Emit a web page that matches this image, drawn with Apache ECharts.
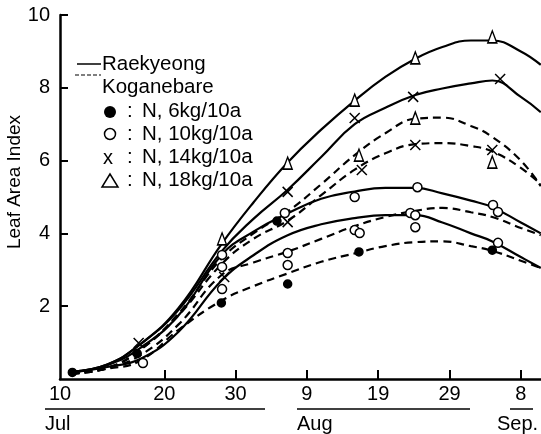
<!DOCTYPE html>
<html>
<head>
<meta charset="utf-8">
<script src="https://cdn.jsdelivr.net/npm/echarts@6/dist/echarts.min.js"></script>
<style>
html,body{margin:0;padding:0;background:#fff;}
#chart{width:541px;height:434px;}
</style>
</head>
<body>
<div id="chart"></div>
<script>
// x = days after 10 July
const curveDays = [-3, 2, 6.6, 12, 18, 22.5, 27.3, 32, 36.7, 41, 45.2, 49, 53, 56, 60, 62.8];
// Raekyeong (solid)
const rae18 = [0.2, 0.4, 0.95, 1.95, 3.7, 4.85, 5.95, 6.85, 7.65, 8.3, 8.8, 9.12, 9.3, 9.3, 9.0, 8.63];
const rae14 = [0.2, 0.4, 0.95, 1.9, 3.5, 4.4, 5.2, 6.1, 7.0, 7.45, 7.8, 7.98, 8.12, 8.2, 7.75, 7.33];
const rae10 = [0.2, 0.38, 0.85, 1.75, 3.4, 4.05, 4.55, 4.95, 5.15, 5.25, 5.25, 5.1, 4.9, 4.72, 4.3, 4.0];
const rae6  = [0.18, 0.33, 0.55, 1.3, 2.7, 3.4, 3.95, 4.25, 4.42, 4.5, 4.5, 4.3, 4.0, 3.78, 3.35, 3.05];
// Koganebare (dashed)
const kog18 = [0.15, 0.3, 0.8, 1.8, 3.3, 4.0, 4.6, 5.35, 6.15, 6.75, 7.15, 7.18, 6.95, 6.65, 6.0, 5.3];
const kog14 = [0.15, 0.3, 0.8, 1.75, 3.15, 3.85, 4.35, 5.05, 5.75, 6.2, 6.45, 6.48, 6.4, 6.25, 5.8, 5.35];
const kog10 = [0.15, 0.3, 0.65, 1.5, 2.85, 3.2, 3.5, 3.85, 4.2, 4.45, 4.62, 4.7, 4.58, 4.45, 4.15, 3.95];
const kog6  = [0.15, 0.28, 0.5, 1.35, 2.15, 2.55, 2.9, 3.22, 3.45, 3.65, 3.76, 3.78, 3.65, 3.52, 3.25, 3.05];

// observed points [day, LAI]
const obsN6  = [[-2.9, 0.18], [6.2, 0.7], [18.0, 2.09], [25.8, 4.34], [27.3, 2.61], [37.3, 3.49], [56.0, 3.54]];
const obsN10 = [[7.0, 0.44], [18.1, 3.41], [18.1, 3.08], [18.1, 2.47], [26.9, 4.56], [27.3, 3.46], [27.3, 3.13],
                [36.7, 5.0], [36.7, 4.09], [37.4, 4.01], [44.5, 4.56], [45.2, 4.5], [45.2, 4.17], [45.5, 5.27],
                [56.1, 4.78], [56.8, 4.59], [56.8, 3.74]];
const obsN14 = [[6.4, 0.99], [18.4, 2.8], [27.3, 5.14], [27.3, 4.31], [36.7, 7.17], [37.7, 5.74], [44.9, 7.75],
                [45.2, 6.43], [57.1, 8.24], [56.0, 6.29]];
const obsN18 = [[18.1, 3.85], [27.3, 5.93], [36.7, 7.66], [37.3, 6.15], [45.2, 8.82], [45.2, 7.17], [56.0, 9.4], [56.0, 5.96]];

// axis ticks / labels
const xTickVals = [10, 20, 30, 40, 50, 60];
const xLabelVals = [-4.63, 10, 20, 30, 40, 50, 60];
const xLabelText = ['10', '20', '30', '9', '19', '29', '8'];
const monthLabels = ['Jul', 'Aug', 'Sep.'];
const legendVarieties = ['Raekyeong', 'Koganebare'];
const legendLevels = ['N, 6kg/10a', 'N, 10kg/10a', 'N, 14kg/10a', 'N, 18kg/10a'];
const yTitle = 'Leaf Area Index';

const FONT = '"Liberation Sans", Arial, Helvetica, sans-serif';
const pair = (xs, ys) => xs.map((x, i) => [x, ys[i]]);

function curve(name, ys, dashed) {
  return {
    type: 'line', name: name, data: pair(curveDays, ys), smooth: 0.45,
    showSymbol: false, silent: true, z: 2,
    lineStyle: {color: '#000', width: 2.2, type: dashed ? [8, 5] : 'solid'}
  };
}
function pts(name, data, symbol, size, fill) {
  return {
    type: 'scatter', name: name, data: data, symbol: symbol, symbolSize: size, z: 5,
    itemStyle: {color: fill, borderColor: '#000', borderWidth: 1.5, opacity: 1}
  };
}

const chart = echarts.init(document.getElementById('chart'), null, {renderer: 'canvas'});

const tg = [];
// month underlines and labels
const ulines = [[45, 265], [297, 470], [510, 533]];
const monthX = [45, 297, 497];
ulines.forEach(u => tg.push({type: 'line', shape: {x1: u[0], y1: 409, x2: u[1], y2: 409}, style: {stroke: '#000', lineWidth: 1.5}}));
monthLabels.forEach((m, i) => tg.push({type: 'text', x: monthX[i], y: 424,
  style: {text: m, font: '20px ' + FONT, fill: '#000', textVerticalAlign: 'middle', textAlign: 'left'}}));
// y title
tg.push({type: 'text', x: 15, y: 182, rotation: Math.PI / 2,
  style: {text: yTitle, font: '19px ' + FONT, fill: '#000', textAlign: 'center', textVerticalAlign: 'middle'}});
// legend
tg.push({type: 'line', shape: {x1: 77, y1: 64, x2: 101, y2: 64}, style: {stroke: '#000', lineWidth: 1.5}});
tg.push({type: 'line', shape: {x1: 75, y1: 75, x2: 101, y2: 75}, style: {stroke: '#000', lineWidth: 1.2, lineDash: [4, 2]}});
const rowY = [64, 87, 111, 134, 157, 180];
legendVarieties.forEach((t, i) => tg.push({type: 'text', x: 102, y: rowY[i],
  style: {text: t, font: '20.5px ' + FONT, fill: '#000', textVerticalAlign: 'middle'}}));
legendLevels.forEach((t, i) => {
  const y = rowY[i + 2];
  tg.push({type: 'text', x: 127, y: y, style: {text: ':', font: '20.5px ' + FONT, fill: '#000', textVerticalAlign: 'middle'}});
  tg.push({type: 'text', x: 142, y: y, style: {text: t, font: '20.5px ' + FONT, fill: '#000', textVerticalAlign: 'middle'}});
});
tg.push({type: 'circle', shape: {cx: 110, cy: 112, r: 6}, style: {fill: '#000'}});
tg.push({type: 'circle', shape: {cx: 110, cy: 134, r: 5.5}, style: {fill: '#fff', stroke: '#000', lineWidth: 1.5}});
tg.push({type: 'text', x: 108, y: 158, style: {text: 'x', font: '20px ' + FONT, fill: '#000', textAlign: 'center', textVerticalAlign: 'middle'}});
tg.push({type: 'polygon', shape: {points: [[110, 174], [102, 187], [118, 187]]}, style: {fill: '#fff', stroke: '#000', lineWidth: 1.5}});

chart.setOption({
  animation: false,
  backgroundColor: '#fff',
  grid: {left: 60, right: 0, top: 15, bottom: 55, containLabel: false},
  xAxis: {
    type: 'value', min: -4.63, max: 62.83,
    axisLine: {show: true, onZero: false, lineStyle: {color: '#000', width: 2.5}},
    axisTick: {show: true, inside: true, length: 9, customValues: xTickVals, lineStyle: {color: '#000', width: 2}},
    axisLabel: {show: true, customValues: xLabelVals, margin: 5, color: '#000', fontSize: 20, fontFamily: FONT,
      formatter: v => { const i = xLabelVals.findIndex(t => Math.abs(t - v) < 0.01); return i >= 0 ? xLabelText[i] : ''; }},
    splitLine: {show: false}
  },
  yAxis: {
    type: 'value', min: 0, max: 10, interval: 2,
    axisLine: {show: true, onZero: false, lineStyle: {color: '#000', width: 2.5}},
    axisTick: {show: true, inside: true, length: 8, lineStyle: {color: '#000', width: 2}},
    axisLabel: {show: true, showMinLabel: false, margin: 10, color: '#000', fontSize: 20, fontFamily: FONT},
    splitLine: {show: false}
  },
  series: [
    curve('R18', rae18, false), curve('R14', rae14, false), curve('R10', rae10, false), curve('R6', rae6, false),
    curve('K18', kog18, true), curve('K14', kog14, true), curve('K10', kog10, true), curve('K6', kog6, true),
    pts('N6', obsN6, 'circle', 8, '#000'),
    pts('N10', obsN10, 'circle', 9, '#fff'),
    pts('N14', obsN14, 'path://M0,0L10,10M10,0L0,10', 10, 'transparent'),
    pts('N18', obsN18, 'triangle', [9, 12], '#fff')
  ],
  graphic: tg
});
</script>
</body>
</html>
